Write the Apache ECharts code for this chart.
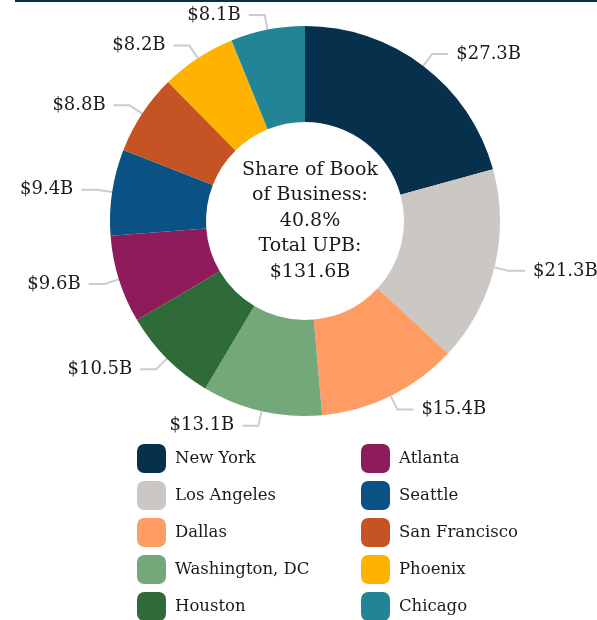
<!DOCTYPE html>
<html>
<head>
<meta charset="utf-8">
<script src="https://cdn.jsdelivr.net/npm/echarts@6/dist/echarts.min.js"></script>
<style>
  html, body { margin: 0; padding: 0; background: #fff; }
  #main { width: 597px; height: 620px; }
</style>
</head>
<body>
<div id="main"></div>
<script>
var cities = ['New York', 'Los Angeles', 'Dallas', 'Washington, DC', 'Houston',
              'Atlanta', 'Seattle', 'San Francisco', 'Phoenix', 'Chicago'];
var upb = [27.3, 21.3, 15.4, 13.1, 10.5, 9.6, 9.4, 8.8, 8.2, 8.1];
var colors = ['#07304d', '#cbc8c3', '#ff9c63', '#74a77a', '#2e6b38',
              '#8e1b5a', '#0a5283', '#c55323', '#ffb300', '#238496'];
var centerLines = ['Share of Book', 'of Business:', '40.8%', 'Total UPB:', '$131.6B'];

var font = 'DejaVu Serif';

var pieData = [];
for (var i = 0; i < cities.length; i++) {
  pieData.push({ name: cities[i], value: upb[i] });
}

var legendStyle = {
  orient: 'vertical',
  padding: 0,
  height: 200,
  itemWidth: 29,
  itemHeight: 29,
  itemGap: 8,
  icon: 'roundRect',
  textStyle: { fontFamily: font, fontSize: 16.5, color: '#1a1a1a', padding: [0, 0, 0, 4] }
};

var option = {
  color: colors,
  title: {
    text: centerLines.join('\n'),
    left: 305,
    top: 152,
    textAlign: 'center',
    textStyle: { fontFamily: font, fontSize: 19, fontWeight: 'normal', color: '#1a1a1a', lineHeight: 25.5 }
  },
  legend: [
    Object.assign({ left: 137, top: 444, data: cities.slice(0, 5) }, legendStyle),
    Object.assign({ left: 361, top: 444, data: cities.slice(5) }, legendStyle)
  ],
  graphic: [{
    type: 'line',
    shape: { x1: 15, y1: 1, x2: 597, y2: 1 },
    style: { stroke: '#07304d', lineWidth: 2 }
  }],
  series: [{
    type: 'pie',
    center: [305, 221],
    radius: [99, 195],
    startAngle: 90,
    clockwise: true,
    avoidLabelOverlap: false,
    emphasis: { disabled: true },
    label: {
      show: true,
      formatter: function (p) { return '$' + p.value.toFixed(1) + 'B'; },
      fontFamily: font,
      fontSize: 18,
      color: '#1a1a1a',
      distanceToLabelLine: 8
    },
    labelLine: {
      show: true,
      length: 15,
      length2: 16,
      lineStyle: { color: '#cccccc', width: 2 }
    },
    data: pieData
  }]
};

var myChart = echarts.init(document.getElementById('main'));
myChart.setOption(option);
</script>
</body>
</html>
